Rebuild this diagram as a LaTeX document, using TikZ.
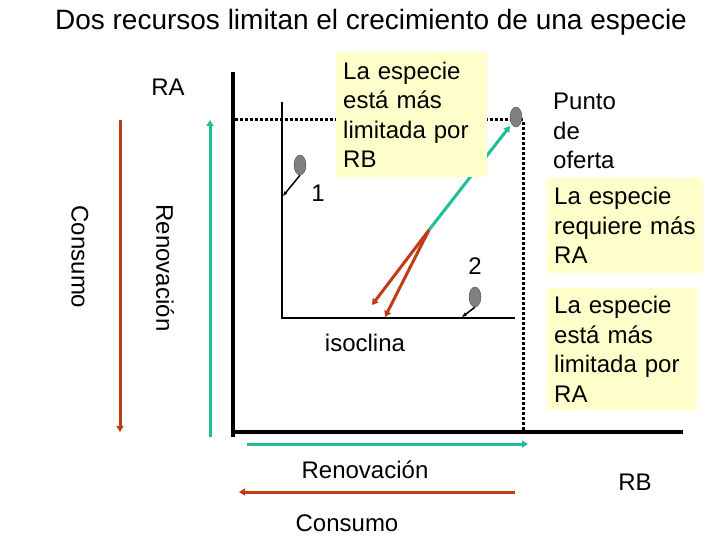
\documentclass[tikz,border=0pt]{standalone}
\usepackage{fontspec}
\setmainfont{Liberation Sans}
\usetikzlibrary{positioning, arrows.meta, shapes.geometric}
\definecolor{rojo}{RGB}{192,60,22}
\definecolor{verde}{RGB}{30,190,150}
\definecolor{amarillo}{RGB}{255,255,204}
\definecolor{bola}{RGB}{128,128,128}

\begin{document}
\begin{tikzpicture}[x=1pt, y=-1pt,
        txt/.style={font=\fontsize{24}{29.5}\selectfont, inner sep=0pt},
        nota/.style={txt, fill=amarillo, anchor=north west, align=left, inner sep=7pt},
        consumo/.style={draw=rojo, line width=3pt, -{Triangle[length=6pt,width=7pt]}},
        renov/.style={draw=verde, line width=3pt, -{Triangle[length=6pt,width=7pt]}},
        bolita/.style={ellipse, draw=black!70, fill=bola, minimum width=12pt, minimum height=20pt, inner sep=0pt},
        empuje/.style={draw=black, line width=1.5pt, -{Stealth[length=5pt]}}]
    \useasboundingbox (0,0) rectangle (720,540);

        % titulo y ejes
        \node[font=\fontsize{28}{32}\selectfont, inner sep=0pt](titulo) at (371,22){Dos recursos limitan el crecimiento de una especie};
        \node[txt](RA) at (168,87){RA};
        \node[txt](RB) at (635,482){RB};

        \coordinate (ejeV) at (233,72);
        \coordinate (origen) at (233,437);
        \coordinate (ejeH0) at (233,432);
        \coordinate (ejeH) at (683,432);
        \draw[line width=4pt] (ejeV) -- (origen);
        \draw[line width=4pt] (ejeH0) -- (ejeH);

        % isoclina
        \coordinate (isoV) at (282,102);
        \coordinate (isoO) at (282,318);
        \coordinate (isoH) at (515,318);
        \draw[line width=2.5pt] (isoV) -- (isoO) -- (isoH);
        \node[txt](isoclina) at (365,343){isoclina};

        % punto de oferta
        \coordinate (ofA) at (235,120);
        \coordinate (ofC) at (523,120);
        \coordinate (ofB) at (523,432);
        \draw[line width=3pt, dotted] (ofA) -- (ofC) -- (ofB);

        % vectores
        \coordinate (equil) at (429,230);
        \coordinate (suministro) at (510,126);
        \coordinate (cons1) at (372,305);
        \coordinate (cons2) at (385,317);
        \draw[renov] (equil) -- (suministro);
        \draw[consumo] (equil) -- (cons1);
        \draw[consumo] (equil) -- (cons2);

        \node[nota, minimum width=151pt, minimum height=125pt, text width=137pt](limRB) at (336,52){La especie\\está más\\limitada por\\RB};

        % poblaciones
        \node[bolita](b1) at (300,165){};
        \node[bolita](b2) at (475,297){};
        \node[bolita](b3) at (516,117){};
        \coordinate (b1fin) at (283,196);
        \coordinate (b2fin) at (462,317);
        \draw[empuje] (b1.south) -- (b1fin);
        \draw[empuje] (b2.south) -- (b2fin);
        \node[txt](n1) at (318,193){1};
        \node[txt](n2) at (475,266){2};

        % flechas de los lados
        \coordinate (cA1) at (120,120);
        \coordinate (cA2) at (120,432);
        \coordinate (rA1) at (210,437);
        \coordinate (rA2) at (210,120);
        \draw[consumo] (cA1) -- (cA2);
        \draw[renov] (rA1) -- (rA2);
        \node[txt, rotate=-90](consA) at (80,257){Consumo};
        \node[txt, rotate=-90](renA) at (165,268){Renovación};

        \coordinate (rB1) at (247,444);
        \coordinate (rB2) at (528,444);
        \coordinate (cB1) at (515,492);
        \coordinate (cB2) at (239,492);
        \draw[renov] (rB1) -- (rB2);
        \draw[consumo] (cB1) -- (cB2);
        \node[txt](renB) at (365,470){Renovación};
        \node[txt](consB) at (347,523){Consumo};

        % leyendas
        \node[txt, anchor=west, align=left](punto) at (553,131){Punto\\de\\oferta};
        \node[nota, minimum width=156pt, minimum height=95pt, text width=142pt](reqRA) at (547,178){La especie\\requiere más\\RA};
        \node[nota, minimum width=150pt, minimum height=122pt, text width=136pt](limRA) at (547,288){La especie\\está más\\limitada por\\RA};
    \end{tikzpicture}
\end{document}
